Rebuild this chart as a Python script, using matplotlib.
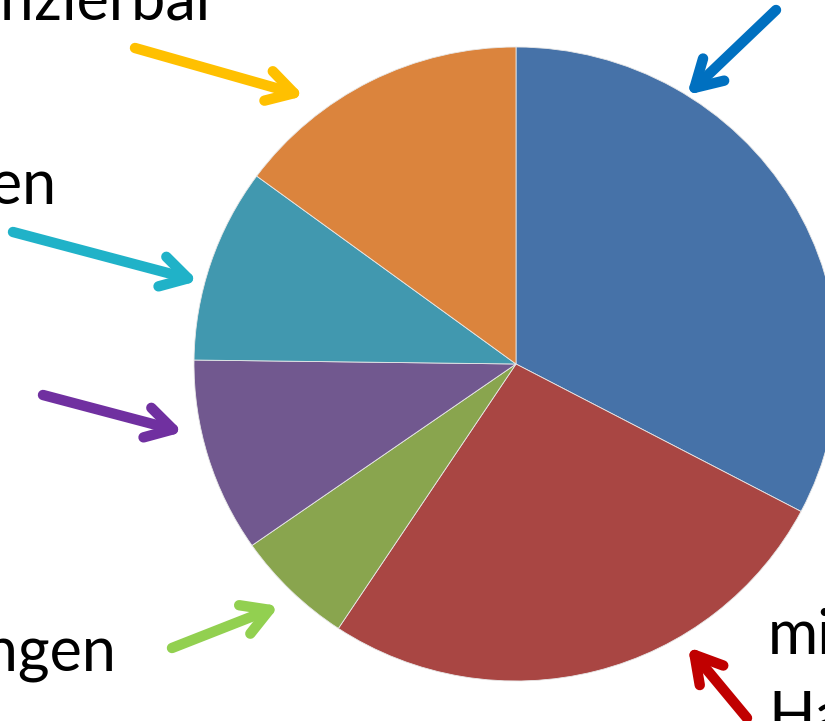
import numpy as np
import matplotlib
matplotlib.use('Agg')
import matplotlib.pyplot as plt
from matplotlib.patches import FancyArrowPatch, ArrowStyle

# slice shares (percent), clockwise from 12 o'clock
shares = [32.7, 26.6, 6.0, 9.9, 9.9, 14.9]
slice_colors = ['#4672A8', '#A94643', '#89A54E', '#71588F', '#4198AF', '#DB843D']

# labels (mostly cut off by the image border)
label_texts = ['nicht quantifizierbar', 'Gebäuden', 'Verpackungen', 'mit', 'Haushalten']
arrow_colors = ['#0070C0', '#C00000', '#92D050', '#7030A0', '#20B2C8', '#FFC000']

W, H = 825, 721
fig = plt.figure(figsize=(W / 100, H / 100), dpi=100)

# pie axes, scaled so the pie sits at (516, 364) px with radii 322 x 317 px
cx, cy, rx, ry = 516, 364, 322, 317
pax = fig.add_axes([0, 0, 1, 1])
pax.pie(shares, colors=slice_colors, startangle=90, counterclock=False,
        radius=1, center=(0, 0),
        wedgeprops=dict(edgecolor='#e8e8e8', linewidth=0.6))
pax.set_aspect('auto')
pax.set_xlim(-cx / rx, (W - cx) / rx)
pax.set_ylim((cy - H) / ry, cy / ry)
pax.axis('off')

# overlay axes in pixel coordinates for labels and arrows
ax = fig.add_axes([0, 0, 1, 1], facecolor='none')
ax.set_xlim(0, W)
ax.set_ylim(H, 0)
ax.axis('off')

font = dict(family=['Lato', 'DejaVu Sans'], fontsize=44, color='black')
ax.text(218, 20, label_texts[0], ha='right', va='baseline', **font)
ax.text(56, 204, label_texts[1], ha='right', va='baseline', **font)
ax.text(117, 670, label_texts[2], ha='right', va='baseline', **font)
ax.text(768, 653, label_texts[3], ha='left', va='baseline', **font)
ax.text(768, 736, label_texts[4], ha='left', va='baseline', **font)

# arrows: (tail, tip) in pixels
arrows = [((776, 10), (687, 95)),
          ((747, 718), (688, 647)),
          ((172, 648), (279, 606)),
          ((43, 395), (183, 432)),
          ((13, 232), (198, 281)),
          ((135, 48), (304, 96))]

style = ArrowStyle('->', head_length=19, head_width=11)
for (tail, tip), col in zip(arrows, arrow_colors):
    a = FancyArrowPatch(tail, tip, arrowstyle=style, mutation_scale=1,
                        color=col, linewidth=7.5, capstyle='round',
                        joinstyle='round', shrinkA=0, shrinkB=0)
    ax.add_patch(a)

fig.savefig('out.png', dpi=100)
